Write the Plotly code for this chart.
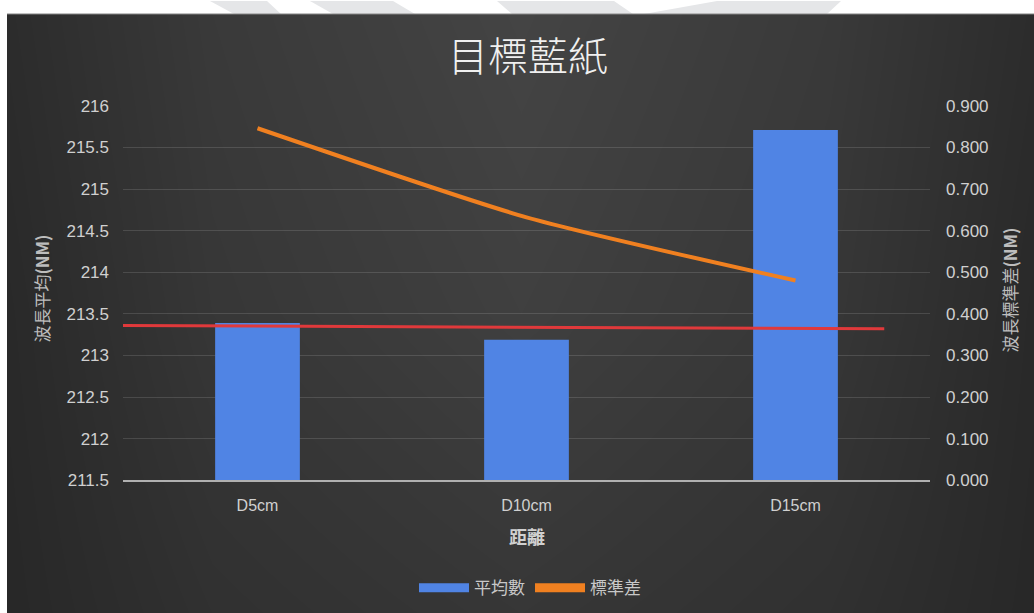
import plotly.graph_objects as go

W, H = 1034, 624
# observed page mapping: window_y = SY * layout_y + OY ; window_x = layout_x
SY, OY = 0.9707, 8.1

# ---- data ----
categories = ["D5cm", "D10cm", "D15cm"]
mean_values = [213.39, 213.19, 215.71]          # 平均數 (left axis)
std_values = [0.846, 0.632, 0.480]              # 標準差 (right axis)
ref_line_x = [-0.5, 2.33]                       # red reference line span (category units)
ref_line_y = [213.36, 213.32]                   # red reference line level (left axis)
left_ticks = [211.5, 212, 212.5, 213, 213.5, 214, 214.5, 215, 215.5, 216]
left_tick_text = ["211.5", "212", "212.5", "213", "213.5", "214", "214.5", "215", "215.5", "216"]

# background shading grid (style only)
bg_x = [0, 0.2, 0.5, 0.8, 1]
bg_y = [0, 0.5, 1]
bg_shade = [
    [0.05, 0.35, 0.55, 0.35, 0.05],
    [0.10, 0.55, 0.85, 0.55, 0.10],
    [0.20, 0.65, 1.00, 0.65, 0.20],
]


def px(x):
    """window x pixel -> paper x"""
    return x / W


def py(y):
    """window y pixel -> paper y"""
    return 1 - ((y - OY) / SY) / H


fig = go.Figure()

# background gradient
fig.add_trace(go.Heatmap(
    x=bg_x, y=bg_y, z=bg_shade, zsmooth="best",
    colorscale=[[0, "#262626"], [1, "#444444"]], zmin=0, zmax=1,
    showscale=False, hoverinfo="skip", xaxis="x", yaxis="y"))

# bars
fig.add_trace(go.Bar(
    x=list(range(len(categories))), y=mean_values, name="平均數",
    marker=dict(color="#5084e4", line=dict(width=0)),
    width=0.315, xaxis="x2", yaxis="y2", showlegend=False))

# red reference line
fig.add_trace(go.Scatter(
    x=ref_line_x, y=ref_line_y, mode="lines",
    line=dict(color="#e0393b", width=3), xaxis="x2", yaxis="y2",
    showlegend=False, hoverinfo="skip"))

# std line
fig.add_trace(go.Scatter(
    x=list(range(len(categories))), y=std_values, name="標準差", mode="lines",
    line=dict(color="#f08020", width=4, shape="spline", smoothing=0.6),
    xaxis="x2", yaxis="y3", showlegend=False))

# legend proxies
fig.add_trace(go.Scatter(x=[None], y=[None], mode="lines", name="平均數",
                         line=dict(color="#5084e4", width=9), xaxis="x2", yaxis="y2"))
fig.add_trace(go.Scatter(x=[None], y=[None], mode="lines", name="標準差",
                         line=dict(color="#f08020", width=9), xaxis="x2", yaxis="y3"))

ytick_font = dict(family="Liberation Sans, Arial, sans-serif", size=17, color="#d0d0d0")
xtick_font = dict(family="Liberation Sans, Arial, sans-serif", size=16, color="#d0d0d0")
cjk = "Noto Sans CJK TC, Noto Sans CJK SC, sans-serif"

x0p, x1p = 123, 930
y0p, y1p = 105, 480

fig.update_layout(
    width=W, height=H,
    margin=dict(l=0, r=0, t=0, b=0),
    paper_bgcolor="white",
    plot_bgcolor="rgba(0,0,0,0)",
    xaxis=dict(domain=[px(7), 1], range=[0, 1], visible=False, fixedrange=True),
    yaxis=dict(domain=[0, py(13)], range=[0, 1], visible=False, fixedrange=True),
    xaxis2=dict(domain=[px(x0p), px(x1p)], anchor="y2", range=[-0.5, 2.5],
                tickvals=list(range(len(categories))), ticktext=categories,
                tickfont=xtick_font, showgrid=False, zeroline=False,
                showline=True, linecolor="#b0b0b0", linewidth=1.5,
                ticks="", ticklabelstandoff=10),
    yaxis2=dict(domain=[py(y1p), py(y0p)], anchor="x2", range=[211.5, 216],
                tickvals=left_ticks, ticktext=left_tick_text,
                tickfont=ytick_font, showgrid=True, gridcolor="rgba(255,255,255,0.13)",
                gridwidth=1, zeroline=False, showline=False, ticks="",
                ticklabelstandoff=13),
    yaxis3=dict(overlaying="y2", side="right", anchor="x2", range=[0, 0.9],
                dtick=0.1, tickformat=".3f", tickfont=ytick_font, showgrid=False,
                zeroline=False, showline=False, ticks="", ticklabelstandoff=15),
    showlegend=True,
    legend=dict(orientation="h", x=px(530), xanchor="center", y=py(588), yanchor="middle",
                font=dict(family=cjk, size=17, color="#c8c8c8"),
                bgcolor="rgba(0,0,0,0)", itemwidth=50),
)

# title and axis titles
fig.add_annotation(text="目標藍紙", x=px(528), y=py(53), xref="paper", yref="paper",
                   showarrow=False,
                   font=dict(family=cjk, size=40, color="#f0f0f0", weight=300),
                   xanchor="center", yanchor="middle")
fig.add_annotation(text="波長平均<b>(NM)</b>", x=px(42), y=py(288), xref="paper", yref="paper",
                   showarrow=False, textangle=-90,
                   font=dict(family=cjk, size=17, color="#bdbdbd"),
                   xanchor="center", yanchor="middle")
fig.add_annotation(text="波長標準差<b>(NM)</b>", x=px(1010), y=py(290), xref="paper", yref="paper",
                   showarrow=False, textangle=-90,
                   font=dict(family=cjk, size=17, color="#bdbdbd"),
                   xanchor="center", yanchor="middle")
fig.add_annotation(text="<b>距離</b>", x=px(527), y=py(536), xref="paper", yref="paper",
                   showarrow=False, font=dict(family=cjk, size=18, color="#d0d0d0"),
                   xanchor="center", yanchor="middle")

# watermark bands in the white strip at the top
bands = [
    [(210, 0), (267, 0), (281, 13), (234, 13)],
    [(310, 0), (393, 0), (415, 13), (333, 13)],
    [(497, 0), (614, 0), (633, 13), (512, 13)],
    [(717, 0), (841, 0), (827, 13), (644, 13)],
]
for b in bands:
    path = "M " + " L ".join(f"{px(x):.5f},{py(y):.5f}" for x, y in b) + " Z"
    fig.add_shape(type="path", path=path, xref="paper", yref="paper",
                  fillcolor="#e5e6e8", line=dict(width=0), layer="below")
# thin light border at the top of the dark area
fig.add_shape(type="line", x0=px(7), x1=1, y0=py(13), y1=py(13), xref="paper", yref="paper",
              line=dict(color="#9a9a9a", width=1))

fig.write_html("out.html")
